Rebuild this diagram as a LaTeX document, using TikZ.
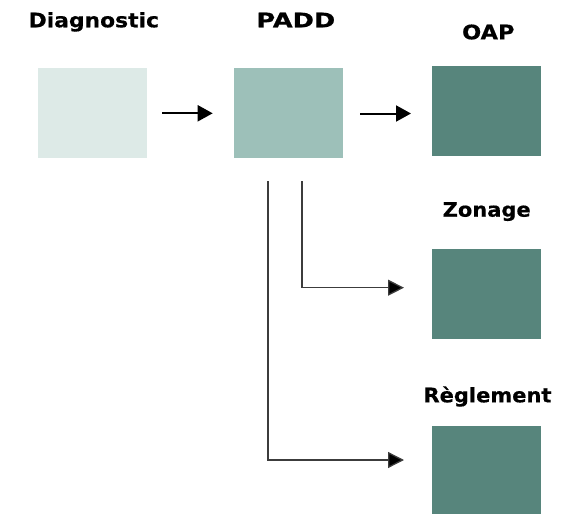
\documentclass[tikz,border=0pt]{standalone}
\usepackage{fontspec}
\setmainfont{DejaVu Sans}
\newfontfamily\lblfont[FakeStretch=1.05,FakeBold=0.5]{DejaVu Sans Bold}
\usetikzlibrary{arrows.meta}
\definecolor{cLight}{RGB}{221,234,231}
\definecolor{cMid}{RGB}{157,192,185}
\definecolor{cDark}{RGB}{87,133,124}
\definecolor{cLine}{RGB}{60,60,60}
\begin{document}
\begin{tikzpicture}[x=1pt,y=-1pt,
  box/.style={rectangle, draw=none, inner sep=0pt, minimum width=109pt, minimum height=90pt},
  lbl/.style={anchor=base, inner sep=0pt, font=\lblfont\fontsize{20}{22}\selectfont},
  toparrow/.style={line width=2pt, -{Triangle[length=15pt,width=16pt]}},
  branch/.style={line width=1.3pt, draw=cLine, -{Triangle[length=16pt,width=16pt,fill=black]}}]
\useasboundingbox (0,0) rectangle (571,514);
% boxes
\node[box, fill=cLight] (diag) at (92.5,112.8) {};
\node[box, fill=cMid] (padd) at (288.5,112.8) {};
\node[box, fill=cDark] (oap) at (486.5,111) {};
\node[box, fill=cDark] (zon) at (486.5,294) {};
\node[box, fill=cDark, minimum height=88pt] (reg) at (486.5,470) {};
% labels
\node[lbl] (tdiag) at (93.8,27.3) {\scalebox{1.04}[1]{Diagnostic}};
\node[lbl] (tpadd) at (295.8,27.3) {\scalebox{1.22}[1]{PADD}};
\node[lbl] (toap) at (488.3,39.3) {\scalebox{1.07}[1]{OAP}};
\node[lbl] (tzon) at (486.7,216.7) {Zonage};
\node[lbl] (treg) at (487.5,402.3) {Règlement};
% top arrows
\coordinate (a1s) at (162,113.3);
\coordinate (a1e) at (212.7,113.3);
\coordinate (a2s) at (360,113.5);
\coordinate (a2e) at (411,113.5);
\draw[toparrow] (a1s) -- (a1e);
\draw[toparrow] (a2s) -- (a2e);
% branches
\coordinate (b1s) at (302,181);
\coordinate (b1e) at (404,287.7);
\coordinate (b2s) at (268,181);
\coordinate (b2e) at (404,460);
\draw[branch] (b1s) |- (b1e);
\draw[branch] (b2s) |- (b2e);
\end{tikzpicture}
\end{document}
